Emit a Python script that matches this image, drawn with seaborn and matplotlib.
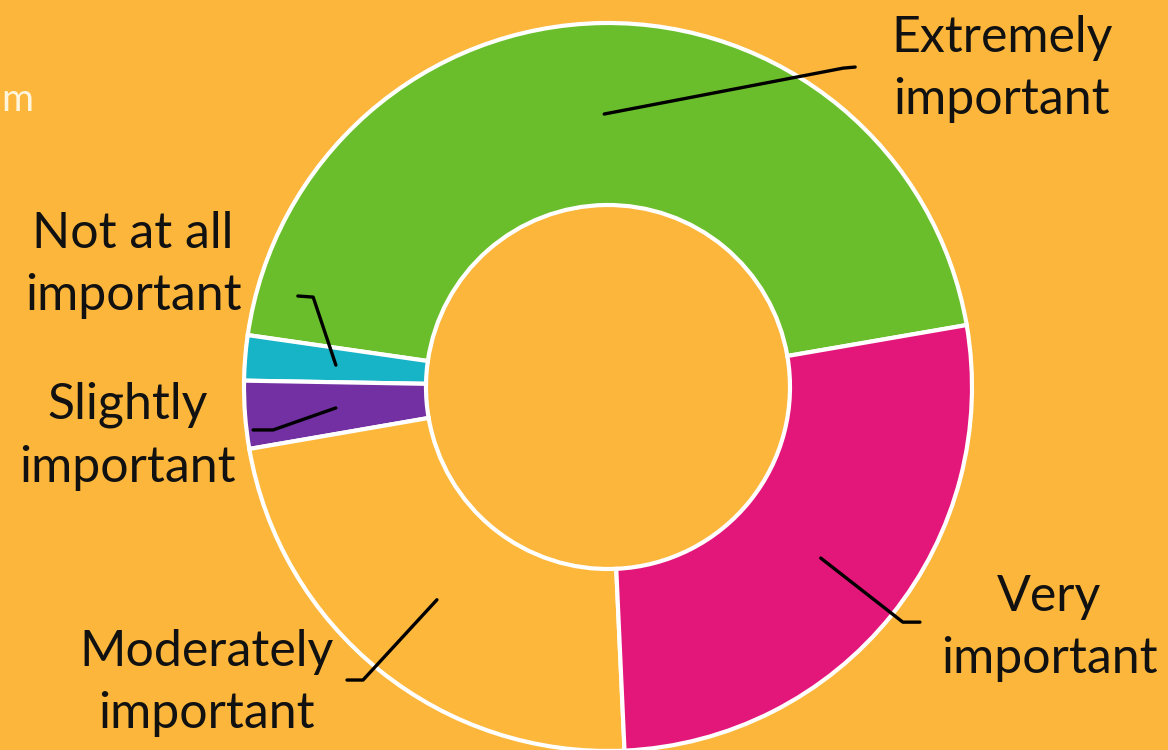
import numpy as np
import matplotlib
matplotlib.use("Agg")
import matplotlib.pyplot as plt
import seaborn as sns

# ---- data ----
categories = ["Extremely\nimportant", "Not at all\nimportant", "Slightly\nimportant",
              "Moderately\nimportant", "Very\nimportant"]
values = [45, 2, 3, 23, 27]
colors = ["#6BBE2B", "#17B3C6", "#7230A2", "#FDB73B", "#E3177A"]

# label layout (data units, radius = 1): text centre, elbow, end of leader
text_pos = [(1.082, 0.874), (-1.305, 0.335), (-1.319, -0.135), (-1.102, -0.813), (1.212, -0.662)]
elbows = [[(0.646, 0.876), (0.679, 0.879)],
          [(-0.810, 0.247), (-0.852, 0.250)],
          [(-0.920, -0.118), (-0.975, -0.118)],
          [(-0.673, -0.805), (-0.717, -0.805)],
          [(0.810, -0.646), (0.857, -0.646)]]

BG = "#FBB63B"
sns.set_theme(style="white")
plt.rcParams["font.family"] = ["Lato", "DejaVu Sans"]

W, H = 1168, 750
fig = plt.figure(figsize=(W / 100, H / 100), dpi=100, facecolor=BG)
cx, cy, R = 608, 387, 364
ax = fig.add_axes([(cx - R) / W, (H - cy - R) / H, 2 * R / W, 2 * R / H])
ax.set_facecolor(BG)

wedges, _ = ax.pie(values, colors=colors, startangle=9.8, counterclock=True,
                   radius=1.0, wedgeprops=dict(width=0.5, edgecolor="white", linewidth=3.0))
ax.set_xlim(-1, 1)
ax.set_ylim(-1, 1)
ax.set_aspect("equal")
ax.axis("off")

for w, lab, tp, el in zip(wedges, categories, text_pos, elbows):
    mid = np.deg2rad((w.theta1 + w.theta2) / 2)
    ax0 = 0.75 * np.cos(mid)
    ay0 = 0.75 * np.sin(mid)
    xs = [ax0] + [p[0] for p in el]
    ys = [ay0] + [p[1] for p in el]
    ax.plot(xs, ys, color="black", lw=2.4, solid_capstyle="round", clip_on=False)
    ax.text(tp[0], tp[1], lab, ha="center", va="center", fontsize=36,
            color="#111111", linespacing=1.45, clip_on=False)

fig.text(1 / W, 1 - 100 / H, "m", ha="left", va="center", fontsize=28, color="#FFF4DC")

fig.savefig("out.png", dpi=100, facecolor=BG)
